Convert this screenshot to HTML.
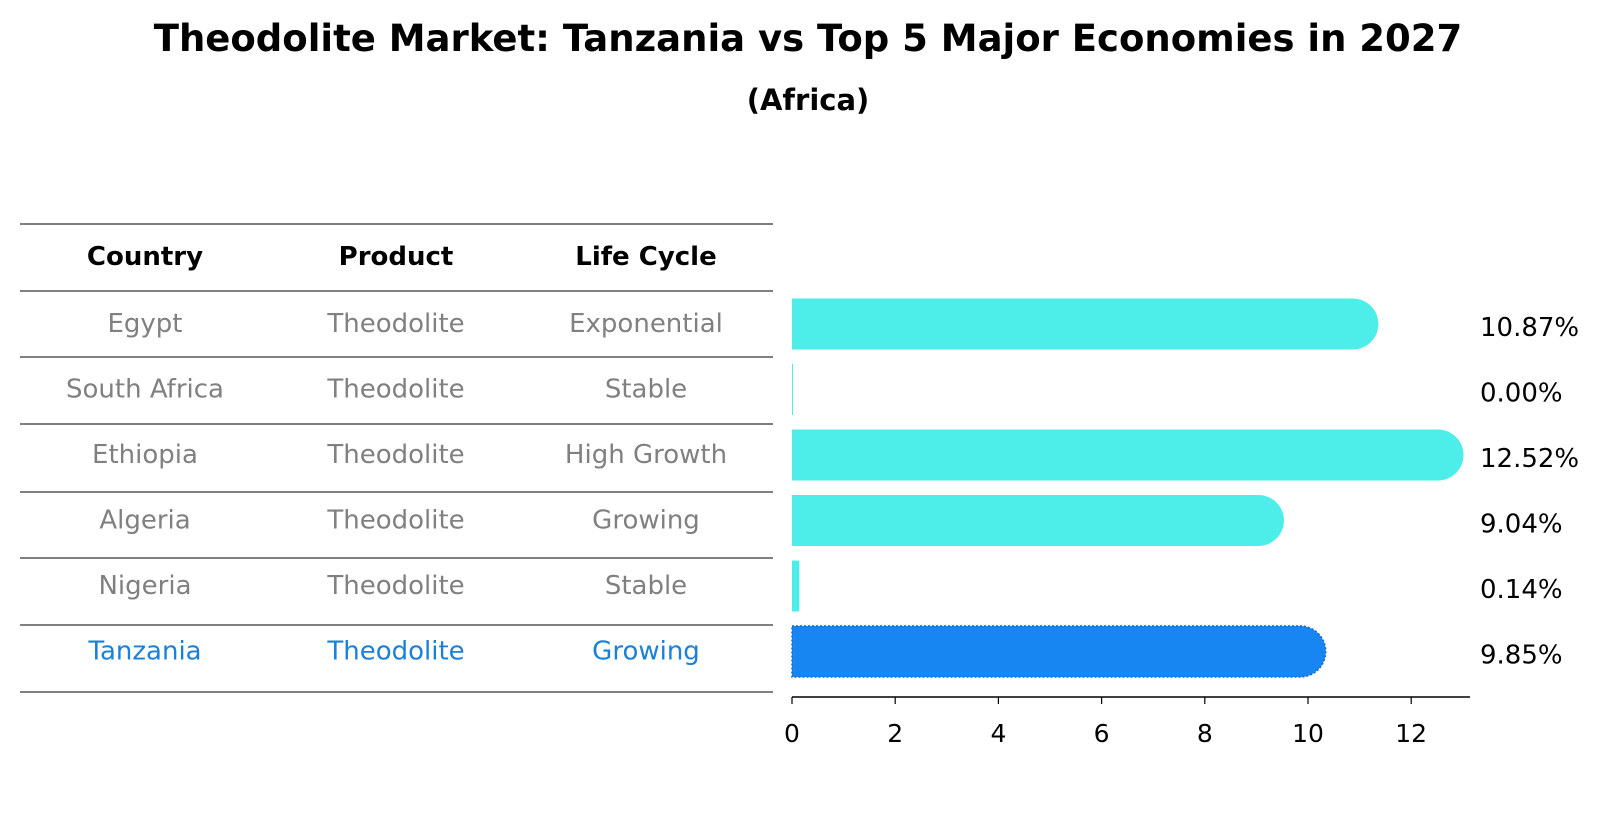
<!DOCTYPE html>
<html><head><meta charset="utf-8"><style>
body{margin:0;background:#fff;font-family:"Liberation Sans","DejaVu Sans",sans-serif;}
</style></head><body>
<svg width="1604" height="823" xmlns="http://www.w3.org/2000/svg" font-family="DejaVu Sans, Liberation Sans, sans-serif">
<text x="808" y="51" text-anchor="middle" font-size="37" font-weight="bold">Theodolite Market: Tanzania vs Top 5 Major Economies in 2027</text>
<text x="808" y="110" text-anchor="middle" font-size="29" font-weight="bold">(Africa)</text>
<g id="table"></g>
<g id="bars"></g>
<g id="axis"></g>
</svg>
<script>
const countries=["Egypt","South Africa","Ethiopia","Algeria","Nigeria","Tanzania"];
const products=["Theodolite","Theodolite","Theodolite","Theodolite","Theodolite","Theodolite"];
const stages=["Exponential","Stable","High Growth","Growing","Stable","Growing"];
const values=[10.87,0.00,12.52,9.04,0.14,9.85];
const ticks=[0,2,4,6,8,10,12];
const NS="http://www.w3.org/2000/svg";
const x0=792, ux=51.6;
const xs=v=>x0+v*ux;
const rowY=i=>324+i*65.5;
function mk(tag,attrs,parent){const e=document.createElementNS(NS,tag);for(const k in attrs)e.setAttribute(k,attrs[k]);parent.appendChild(e);return e;}
const tbl=document.getElementById('table');
const lineYs=[224,291,357,424,492,558,625,692];
lineYs.forEach(y=>{const l=mk('line',{x1:20,x2:773,y1:y,y2:y,stroke:'#000','stroke-width':1},tbl);

});
const cx=[145,396,646];
["Country","Product","Life Cycle"].forEach((h,j)=>{const t=mk('text',{x:cx[j],y:265,'text-anchor':'middle','font-size':26,'font-weight':'bold'},tbl);t.textContent=h;

});
countries.forEach((c,i)=>{
 const col=i===5?'#1a80d9':'#808080';
 [c,products[i],stages[i]].forEach((s,j)=>{const t=mk('text',{x:cx[j],y:rowY(i)+8,'text-anchor':'middle','font-size':26,fill:col},tbl);t.textContent=s;
 
 });
});
const bars=document.getElementById('bars');
values.forEach((v,i)=>{
 const w=Math.max(v*ux,1); const h=51;
 const col=i===5?'#1785f2':'#4deeea';
 const y=rowY(i)-h/2;
 let d;
 if(v>0.5){const xe=x0+w, r=h/2; d=`M${x0},${y} H${xe} A${r},${r} 0 0 1 ${xe},${y+h} H${x0} Z`;}
 else d=`M${x0},${y} h${w} v${h} h${-w} Z`;
 const p=mk('path',{d:d,fill:col},bars);
 
 
 if(i===5){p.setAttribute('stroke','#1569c7');p.setAttribute('stroke-width','1.5');p.setAttribute('stroke-dasharray','2 2');}
 const t=mk('text',{x:1480,y:rowY(i)+12,'font-size':26},bars);t.textContent=v.toFixed(2)+'%';
 
 
});
const ax=document.getElementById('axis');
const al=mk('line',{x1:x0,x2:1470,y1:697,y2:697,stroke:'#000','stroke-width':1.5},ax);


ticks.forEach(tv=>{const l=mk('line',{x1:xs(tv),x2:xs(tv),y1:697,y2:704,stroke:'#000','stroke-width':1.2},ax);


const t=mk('text',{x:xs(tv),y:742,'text-anchor':'middle','font-size':25},ax);t.textContent=tv;

});
</script>
</body></html>
